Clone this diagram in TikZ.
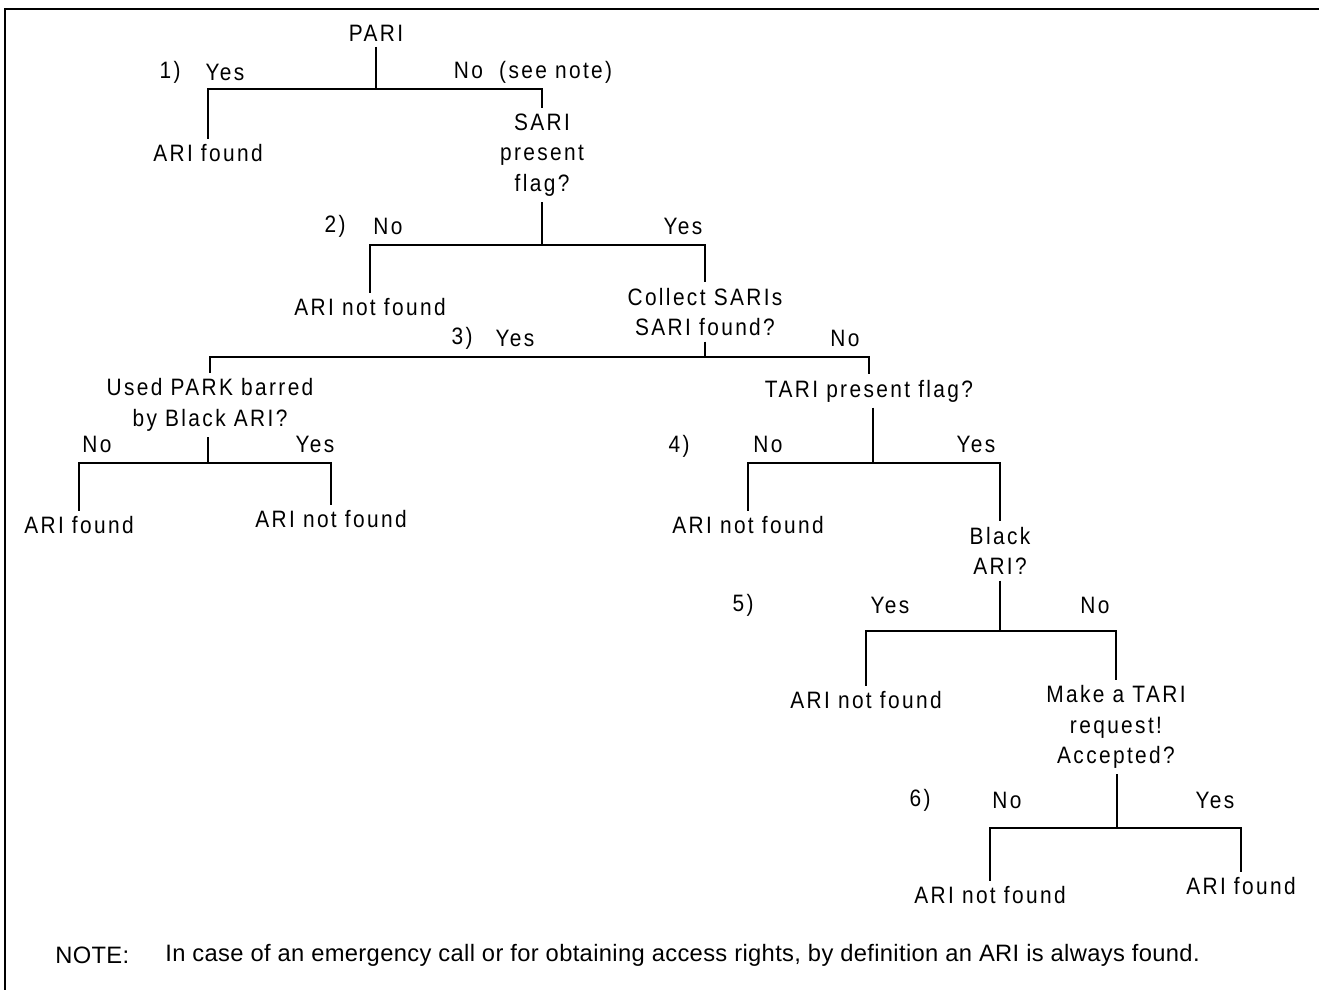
\documentclass[tikz,border=0pt]{standalone}
\usepackage{fontspec}
\setmainfont{Liberation Sans}
\newfontfamily\treefont[LetterSpace=10,FakeStretch=0.88]{Liberation Sans}
\newfontfamily\notefont[LetterSpace=1.5]{Liberation Sans}

\tikzset{
  txt/.style={font=\treefont\fontsize{13.5}{17.5}\selectfont, align=center, inner sep=3pt},
  lbl/.style={font=\treefont\fontsize{13.5}{14}\selectfont, inner sep=0pt},
  notestyle/.style={font=\notefont\fontsize{13.5}{15}\selectfont, anchor=west, inner sep=0pt},
  branch/.style={line width=1.1pt},
}

\begin{document}
\begin{tikzpicture}[x=0.02cm, y=-0.02cm]
            \useasboundingbox (0,0) rectangle (1319,990);
            \draw[branch] (5,990) -- (5,9) -- (1319,9);

            % fork points
            \coordinate (b1) at (376,89);
            \coordinate (b2) at (542,245);
            \coordinate (b3) at (705,357);
            \coordinate (b4) at (208,463);
            \coordinate (b5) at (873,463);
            \coordinate (b6) at (1000,631);
            \coordinate (b7) at (1117,828);

            % questions and results
            \node[txt] (pari) at (376,33) {PARI};
            \node[txt] (found1) at (208,153) {ARI found};
            \node[txt] (sari) at (542,155) {SARI\\present\\flag?};
            \node[txt] (notfound2) at (370,307) {ARI not found};
            \node[txt] (collect) at (705,312) {Collect SARIs\\SARI found?};
            \node[txt] (used) at (210,405) {Used PARK barred\\by Black ARI?};
            \node[txt] (found3) at (79,525) {ARI found};
            \node[txt] (notfound3) at (331,519) {ARI not found};
            \node[txt] (tari) at (869,391) {TARI present flag?};
            \node[txt] (notfound4) at (748,525) {ARI not found};
            \node[txt] (black) at (1000,551) {Black\\ARI?};
            \node[txt] (notfound5) at (866,700) {ARI not found};
            \node[txt] (make) at (1116,727) {Make a TARI\\request!\\Accepted?};
            \node[txt] (notfound6) at (990,895) {ARI not found};
            \node[txt] (found6) at (1241,886) {ARI found};

            % branch labels
            \node[lbl] (n1) at (170,72) {1)};
            \node[lbl] (yes1) at (225,72) {Yes};
            \node[lbl] (no1) at (533,72) {No\ \ (see note)};
            \node[lbl] (n2) at (335,226) {2)};
            \node[lbl] (no2) at (388,226) {No};
            \node[lbl] (yes2) at (683,226) {Yes};
            \node[lbl] (n3) at (462,338) {3)};
            \node[lbl] (yes3) at (515,338) {Yes};
            \node[lbl] (no3) at (845,338) {No};
            \node[lbl] (no3b) at (97,444) {No};
            \node[lbl] (yes3b) at (315,444) {Yes};
            \node[lbl] (n4) at (679,446) {4)};
            \node[lbl] (no4) at (768,444) {No};
            \node[lbl] (yes4) at (976,444) {Yes};
            \node[lbl] (n5) at (743,605) {5)};
            \node[lbl] (yes5) at (890,605) {Yes};
            \node[lbl] (no5) at (1095,605) {No};
            \node[lbl] (n6) at (920,800) {6)};
            \node[lbl] (no6) at (1007,800) {No};
            \node[lbl] (yes6) at (1215,800) {Yes};

            % branches
            \draw[branch] (b1 |- pari.south) -- (b1);
            \draw[branch] (found1.north) |- (b1) -| (sari.north);
            \draw[branch] (b2 |- sari.south) -- (b2);
            \draw[branch] (notfound2.north) |- (b2) -| (collect.north);
            \draw[branch] (b3 |- collect.south) -- (b3);
            \draw[branch] (used.north) |- (b3) -| (tari.north);
            \draw[branch] (b4 |- used.south) -- (b4);
            \draw[branch] (found3.north) |- (b4) -| (notfound3.north);
            \draw[branch] (b5 |- tari.south) -- (b5);
            \draw[branch] (notfound4.north) |- (b5) -| (black.north);
            \draw[branch] (b6 |- black.south) -- (b6);
            \draw[branch] (notfound5.north) |- (b6) -| (make.north);
            \draw[branch] (b7 |- make.south) -- (b7);
            \draw[branch] (notfound6.north) |- (b7) -| (found6.north);

            \node[notestyle] (note) at (55,955) {NOTE:};
            \node[notestyle] (notetext) at (165,955) {In case of an emergency call or for obtaining access rights, by definition an ARI is always found.};

        \end{tikzpicture}
\end{document}
